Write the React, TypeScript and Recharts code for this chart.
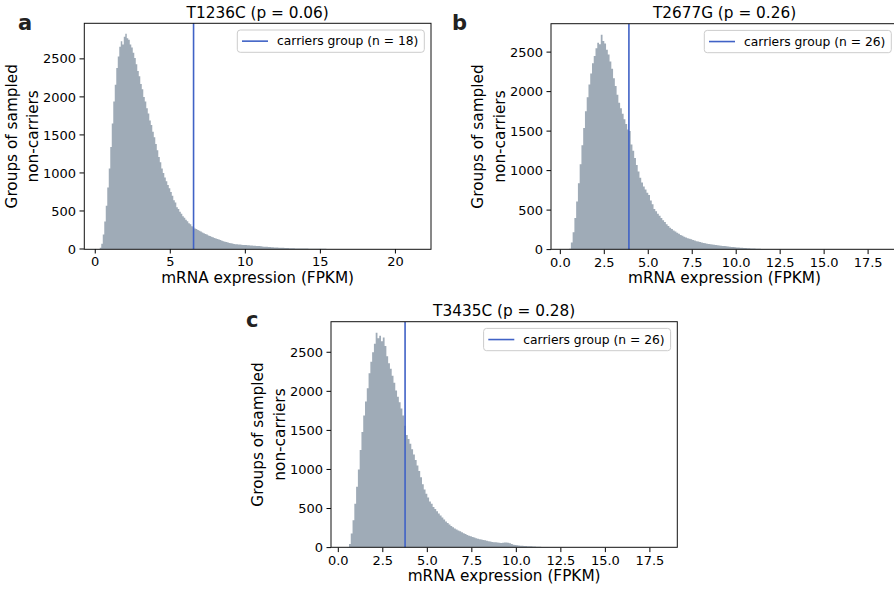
import React from 'react';
import { ComposedChart, Area, XAxis, YAxis, ReferenceLine } from 'recharts';

// ---------------- data ----------------
const BIN_WIDTH = 0.1;

const aStart = 0.3;
const aCounts = [
  15, 70, 190, 360, 570, 810, 1060, 1340, 1650, 1940,
  2160, 2380, 2530, 2660, 2730, 2690, 2790, 2830, 2770, 2750,
  2690, 2650, 2580, 2510, 2430, 2340, 2270, 2170, 2100, 2000,
  1940, 1850, 1780, 1690, 1630, 1540, 1470, 1380, 1300, 1210,
  1140, 1060, 1000, 940, 890, 840, 800, 750, 700, 640,
  610, 550, 525, 490, 465, 430, 410, 385, 365, 340,
  325, 300, 285, 268, 262, 250, 241, 230, 216, 208,
  197, 190, 178, 170, 161, 154, 146, 139, 133, 125,
  119, 110, 103, 96, 91, 85, 80, 75, 71, 67,
  64, 62, 59, 58, 56, 54, 53, 51, 50, 48,
  47, 45, 44, 42, 41, 39, 38, 35, 33, 31,
  29, 28, 26, 25, 23, 22, 21, 20, 19, 18,
  17, 16, 15, 14, 13, 12, 11, 10, 10, 9,
  8, 8, 7, 7, 6, 6, 5, 5, 5, 4,
  4, 4, 3, 3, 3, 3, 2, 2, 2, 2,
  2, 1, 1, 1, 1, 1, 1,
];

const bStart = 0.5;
const bCounts = [
  12, 90, 220, 400, 610, 840, 1080, 1320, 1540, 1750,
  1930, 2090, 2230, 2360, 2450, 2550, 2620, 2600, 2720, 2640,
  2610, 2530, 2470, 2380, 2290, 2170, 2070, 1960, 1860, 1790,
  1720, 1650, 1590, 1520, 1500, 1330, 1250, 1160, 1070, 990,
  910, 850, 800, 760, 720, 690, 620, 575, 515, 485,
  455, 430, 400, 372, 348, 322, 300, 278, 262, 243,
  228, 212, 200, 186, 174, 162, 153, 145, 137, 130,
  121, 114, 107, 101, 96, 90, 85, 80, 75, 70,
  67, 63, 61, 58, 56, 53, 50, 47, 45, 42,
  40, 37, 34, 32, 29, 27, 25, 23, 22, 20,
  19, 18, 16, 15, 14, 13, 12, 11, 10, 9,
  8, 7, 7, 6, 5, 5, 4, 4, 3, 3,
  3, 2, 2, 2, 2, 1, 1, 1, 1, 1, 1,
];

const cStart = 0.5;
const cCounts = [
  8, 45, 180, 350, 560, 780, 1000, 1250, 1480, 1690,
  1870, 2040, 2230, 2380, 2500, 2610, 2750, 2680, 2710, 2640,
  2690, 2580, 2450, 2360, 2290, 2200, 2110, 2010, 1930, 1860,
  1780, 1690, 1560, 1440, 1390, 1330, 1260, 1190, 1120, 1050,
  980, 900, 810, 745, 690, 640, 590, 560, 520, 495,
  465, 435, 410, 385, 360, 335, 315, 295, 277, 260,
  246, 232, 220, 208, 197, 185, 173, 162, 152, 144,
  136, 128, 121, 114, 108, 103, 98, 94, 88, 82,
  77, 73, 70, 67, 64, 62, 60, 62, 64, 66,
  62, 55, 46, 38, 33, 30, 27, 25, 23, 21,
  20, 18, 17, 16, 14, 13, 12, 11, 10, 9,
  8, 7, 7, 6, 5, 5, 4, 4, 4, 3,
  3, 3, 2, 2, 2, 1, 1, 1, 1, 1, 1,
];

const titles = ['T1236C (p = 0.06)', 'T2677G (p = 0.26)', 'T3435C (p = 0.28)'];
const panelLetters = ['a', 'b', 'c'];
const carrierValues = [6.55, 3.9, 3.75];
const carrierCounts = [18, 26, 26];

const aXTicks = [0, 5, 10, 15, 20];
const bXTicks = [0, 2.5, 5, 7.5, 10, 12.5, 15, 17.5];
const cXTicks = [0, 2.5, 5, 7.5, 10, 12.5, 15, 17.5];
const yTicks = [0, 500, 1000, 1500, 2000, 2500];

const aXDomain = [-0.75, 22.35];
const bXDomain = [-0.53, 19.2];
const cXDomain = [-0.41, 19.04];

const xLabel = 'mRNA expression (FPKM)';
const yLabelLines = ['Groups of sampled', 'non-carriers'];
const legendText = (n: number) => `carriers group (n = ${n})`;

// ---------------- styles ----------------
const FONT = '"DejaVu Sans", sans-serif';
const HIST_FILL = '#9fabb7';
const LINE_COLOR = '#4062c6';
const TICK_FS = 13;
const LABEL_FS = 15.3;
const LEGEND_FS = 12.3;

function buildBins(start: number, counts: number[]) {
  const rows = counts.map((v, i) => ({ x: +(start + i * BIN_WIDTH).toFixed(3), y: v }));
  rows.push({ x: +(start + counts.length * BIN_WIDTH).toFixed(3), y: 0 });
  return rows;
}

type PanelSpec = {
  left: number; top: number; width: number; height: number;
  data: { x: number; y: number }[];
  xDomain: number[]; xTicks: number[]; fmt: (v: number) => string;
  carrier: number;
};

const Y_AXIS_W = 60;
const X_AXIS_H = 30;
const PAD_L = 20, PAD_T = 10, PAD_R = 20, PAD_B = 10;

function Panel({ spec }: { spec: PanelSpec }) {
  const chartW = spec.width + PAD_L + Y_AXIS_W + PAD_R;
  const chartH = spec.height + PAD_T + X_AXIS_H + PAD_B;
  const tickStyle = { fontSize: TICK_FS, fill: '#000', fontFamily: FONT };
  return (
    <div style={{ position: 'absolute', left: spec.left - PAD_L - Y_AXIS_W, top: spec.top - PAD_T, width: chartW, height: chartH }}>
      <ComposedChart
        width={chartW}
        height={chartH}
        data={spec.data}
        margin={{ top: PAD_T, left: PAD_L, right: PAD_R, bottom: PAD_B }}
      >
        <XAxis
          dataKey="x"
          type="number"
          domain={spec.xDomain as [number, number]}
          ticks={spec.xTicks}
          interval={0}
          allowDataOverflow
          tickFormatter={spec.fmt}
          tick={tickStyle}
          tickSize={4.5}
          tickMargin={3.5}
          tickLine={{ stroke: '#000', strokeWidth: 1 }}
          axisLine={false}
          height={X_AXIS_H}
        />
        <YAxis
          type="number"
          domain={[0, (m: number) => m * 1.05]}
          ticks={yTicks}
          interval={0}
          allowDataOverflow
          tick={tickStyle}
          tickSize={4.5}
          tickMargin={3.5}
          tickLine={{ stroke: '#000', strokeWidth: 1 }}
          axisLine={false}
          width={Y_AXIS_W}
        />
        <Area
          type="stepAfter"
          dataKey="y"
          fill={HIST_FILL}
          fillOpacity={1}
          stroke="none"
          isAnimationActive={false}
          dot={false}
          activeDot={false}
        />
        <ReferenceLine x={spec.carrier} stroke={LINE_COLOR} strokeWidth={1.6} ifOverflow="hidden" />
      </ComposedChart>
    </div>
  );
}

const fmtInt = (v: number) => String(v);
const fmt1 = (v: number) => v.toFixed(1);

const specs: PanelSpec[] = [
  { left: 84.3, top: 23.3, width: 346.7, height: 226, data: buildBins(aStart, aCounts), xDomain: aXDomain, xTicks: aXTicks, fmt: fmtInt, carrier: carrierValues[0] },
  { left: 551, top: 23.7, width: 347, height: 225.6, data: buildBins(bStart, bCounts), xDomain: bXDomain, xTicks: bXTicks, fmt: fmt1, carrier: carrierValues[1] },
  { left: 331, top: 321.7, width: 346.3, height: 225.6, data: buildBins(cStart, cCounts), xDomain: cXDomain, xTicks: cXTicks, fmt: fmt1, carrier: carrierValues[2] },
];

const letterPos = [
  { x: 18, y: 30 },
  { x: 452, y: 30 },
  { x: 246, y: 327 },
];

export default function App() {
  return (
    <div style={{ position: 'absolute', left: 0, top: 0, width: 894, height: 589, overflow: 'hidden', background: '#fff' }}>
      {specs.map((s, i) => (
        <Panel key={i} spec={s} />
      ))}
      <svg width={894} height={589} style={{ position: 'absolute', left: 0, top: 0, pointerEvents: 'none' }}>
        {specs.map((s, i) => {
          const cx = s.left + s.width / 2;
          const cy = s.top + s.height / 2;
          const boxW = 187;
          const boxH = 22.3;
          const boxR = s.left + s.width - 6.7;
          const boxL = boxR - boxW;
          const boxT = s.top + 6.7;
          return (
            <g key={i} fontFamily={FONT} fill="#000">
              <rect x={s.left} y={s.top} width={s.width} height={s.height} fill="none" stroke="#111" strokeWidth={1} />
              <text x={letterPos[i].x} y={letterPos[i].y} fontSize={21} fontWeight="bold" fill="#222">
                {panelLetters[i]}
              </text>
              <text x={cx} y={s.top - 5.3} fontSize={LABEL_FS} textAnchor="middle">
                {titles[i]}
              </text>
              <text x={cx} y={s.top + s.height + 33.7} fontSize={LABEL_FS} textAnchor="middle">
                {xLabel}
              </text>
              {yLabelLines.map((line, j) => {
                const x = s.left - 67.6 + j * 21.5;
                return (
                  <text key={j} x={x} y={cy} fontSize={LABEL_FS} textAnchor="middle" transform={`rotate(-90 ${x} ${cy})`}>
                    {line}
                  </text>
                );
              })}
              <rect x={boxL} y={boxT} width={boxW} height={boxH} rx={3} ry={3} fill="#fff" fillOpacity={0.8} stroke="#cccccc" strokeWidth={1} />
              <line x1={boxL + 4.7} x2={boxL + 30.7} y1={boxT + boxH / 2} y2={boxT + boxH / 2} stroke={LINE_COLOR} strokeWidth={1.6} />
              <text x={boxL + 39.7} y={boxT + 15.2} fontSize={LEGEND_FS}>
                {legendText(carrierCounts[i])}
              </text>
            </g>
          );
        })}
      </svg>
    </div>
  );
}
